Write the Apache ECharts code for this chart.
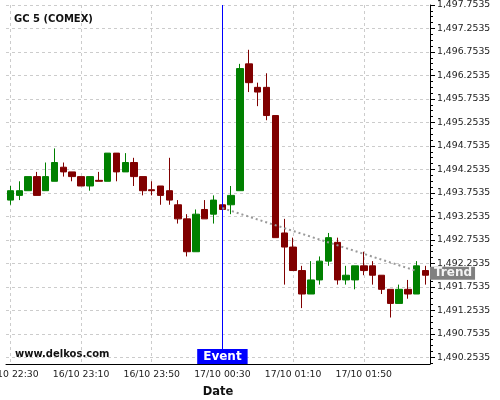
<!DOCTYPE html>
<html>
<head>
<meta charset="utf-8">
<script src="https://cdn.jsdelivr.net/npm/echarts@6/dist/echarts.min.js"></script>
<style>
  html, body { margin: 0; padding: 0; background: #fff; }
  #main { width: 500px; height: 400px; }
</style>
</head>
<body>
<div id="main"></div>
<script>
    // 5 minute candles, GC 5 (COMEX)
    var times = [
        '16/10 22:30', '16/10 22:35', '16/10 22:40', '16/10 22:45', '16/10 22:50', '16/10 22:55',
        '16/10 23:00', '16/10 23:05', '16/10 23:10', '16/10 23:15', '16/10 23:20', '16/10 23:25',
        '16/10 23:30', '16/10 23:35', '16/10 23:40', '16/10 23:45', '16/10 23:50', '16/10 23:55',
        '17/10 00:00', '17/10 00:05', '17/10 00:10', '17/10 00:15', '17/10 00:20', '17/10 00:25',
        '17/10 00:30', '17/10 00:35', '17/10 00:40', '17/10 00:45', '17/10 00:50', '17/10 00:55',
        '17/10 01:00', '17/10 01:05', '17/10 01:10', '17/10 01:15', '17/10 01:20', '17/10 01:25',
        '17/10 01:30', '17/10 01:35', '17/10 01:40', '17/10 01:45', '17/10 01:50', '17/10 01:55',
        '17/10 02:00', '17/10 02:05', '17/10 02:10', '17/10 02:15', '17/10 02:20', '17/10 02:25'
    ];
    var opens = [
        1493.6, 1493.7, 1493.8, 1494.1, 1493.8, 1494.0, 1494.3, 1494.2, 1494.1, 1493.9, 1494.02, 1494.0,
        1494.6, 1494.2, 1494.4, 1494.1, 1493.82, 1493.9, 1493.8, 1493.5, 1493.2, 1492.5, 1493.4, 1493.3,
        1493.5, 1493.5, 1493.8, 1496.5, 1496.0, 1496.0, 1495.4, 1492.9, 1492.6, 1492.1, 1491.6, 1491.9,
        1492.3, 1492.7, 1491.9, 1491.9, 1492.2, 1492.2, 1492.0, 1491.7, 1491.4, 1491.7, 1491.6, 1492.1
    ];
    var closes = [
        1493.8, 1493.8, 1494.1, 1493.7, 1494.1, 1494.4, 1494.2, 1494.1, 1493.9, 1494.1, 1494.0, 1494.6,
        1494.2, 1494.4, 1494.1, 1493.8, 1493.8, 1493.7, 1493.6, 1493.2, 1492.5, 1493.3, 1493.2, 1493.6,
        1493.4, 1493.7, 1496.4, 1496.1, 1495.9, 1495.4, 1492.8, 1492.6, 1492.1, 1491.6, 1491.9, 1492.3,
        1492.8, 1491.9, 1492.0, 1492.2, 1492.1, 1492.0, 1491.7, 1491.4, 1491.7, 1491.6, 1492.2, 1492.0
    ];
    var lows = [
        1493.5, 1493.6, 1493.8, 1493.7, 1493.8, 1494.0, 1494.1, 1494.0, 1493.9, 1493.8, 1494.0, 1494.0,
        1494.0, 1494.2, 1493.9, 1493.7, 1493.7, 1493.5, 1493.5, 1493.1, 1492.4, 1492.5, 1493.2, 1493.1,
        1493.4, 1493.3, 1493.8, 1495.9, 1495.6, 1495.3, 1492.8, 1491.8, 1492.1, 1491.3, 1491.6, 1491.8,
        1492.2, 1491.8, 1491.8, 1491.7, 1492.0, 1491.8, 1491.6, 1491.1, 1491.4, 1491.5, 1491.6, 1491.8
    ];
    var highs = [
        1493.9, 1494.0, 1494.1, 1494.2, 1494.4, 1494.7, 1494.4, 1494.2, 1494.1, 1494.1, 1494.2, 1494.6,
        1494.6, 1494.6, 1494.5, 1494.1, 1494.0, 1493.9, 1494.5, 1493.6, 1493.3, 1493.4, 1493.6, 1493.7,
        1493.5, 1493.9, 1496.5, 1496.8, 1496.1, 1496.3, 1495.4, 1493.2, 1492.8, 1492.2, 1492.3, 1492.4,
        1492.9, 1492.8, 1492.2, 1492.2, 1492.5, 1492.3, 1492.0, 1491.7, 1491.8, 1491.9, 1492.3, 1492.2
    ];
    var yTicks = [
        1490.2535, 1490.7535, 1491.2535, 1491.7535, 1492.2535, 1492.7535, 1493.2535, 1493.7535,
        1494.2535, 1494.7535, 1495.2535, 1495.7535, 1496.2535, 1496.7535, 1497.2535, 1497.7535
    ];
    var yMin = 1490.11;
    var yMax = 1497.7535;

    var eventIndex = 24;
    // trend line: [index, price] at both ends, label price at the axis
    var trendStart = [24, 1493.43];
    var trendEnd = [46, 1492.09];
    var trendLabelPrice = 1492.04;

    var candles = [];
    for (var i = 0; i < times.length; i++) {
        candles.push([opens[i], closes[i], lows[i], highs[i]]);
    }
    // 3 minor ticks between labelled ticks
    var minorTicks = [];
    for (var j = 0; j < yTicks.length; j++) {
        for (var k = 1; k < 4; k++) {
            var m = yTicks[j] - k * 0.125;
            if (m >= yMin) minorTicks.push(m);
        }
    }

    function priceLabel(v) {
        var s = v.toFixed(4).split('.');
        return s[0].replace(/\B(?=(\d{3})+$)/g, ',') + '.' + s[1];
    }

    var font = 'DejaVu Sans';
    var gridLine = { color: '#cccccc', type: [3, 3], width: 1 };

    var chart = echarts.init(document.getElementById('main'));
    chart.setOption({
        animation: false,
        textStyle: { fontFamily: font },
        title: {
            text: 'GC 5 (COMEX)',
            left: 9,
            top: 9,
            textStyle: { fontSize: 10, fontWeight: 'bold', color: '#111', fontFamily: font }
        },
        grid: { left: 6, right: 70, top: 5, bottom: 36, containLabel: false, outerBoundsMode: 'none' },
        xAxis: {
            type: 'category',
            data: times,
            boundaryGap: true,
            name: 'Date',
            nameLocation: 'middle',
            nameGap: 22,
            nameTextStyle: { fontSize: 11.5, fontWeight: 'bold', color: '#111' },
            axisLine: { lineStyle: { color: '#000', width: 1 } },
            axisTick: { alignWithLabel: true, interval: 1, length: 3, lineStyle: { color: '#000' } },
            axisLabel: { interval: 7, fontSize: 9.3, color: '#222', margin: 6, hideOverlap: false },
            splitLine: { show: true, interval: 7, alignWithLabel: true, lineStyle: gridLine }
        },
        yAxis: [
            {
                type: 'value',
                position: 'right',
                min: yMin,
                max: yMax,
                axisLine: { show: true, lineStyle: { color: '#000', width: 1 } },
                axisTick: { show: true, customValues: minorTicks, length: 3, lineStyle: { color: '#000' } },
                axisLabel: { show: false },
                splitLine: { show: false }
            },
            {
                type: 'value',
                position: 'right',
                min: yMin,
                max: yMax,
                axisLine: { show: false },
                axisTick: { show: true, customValues: yTicks, length: 5, lineStyle: { color: '#000' } },
                axisLabel: {
                    customValues: yTicks,
                    formatter: priceLabel,
                    fontSize: 9.3,
                    color: '#222',
                    margin: 7
                },
                splitLine: { show: true, lineStyle: gridLine }
            }
        ],
        series: [{
            name: 'GC 5',
            type: 'candlestick',
            yAxisIndex: 0,
            barWidth: 7,
            data: candles,
            itemStyle: {
                color: '#008000',
                color0: '#800000',
                borderColor: '#008000',
                borderColor0: '#800000',
                borderWidth: 1
            },
            markLine: {
                silent: true,
                symbol: ['none', 'none'],
                label: { show: false },
                data: [
                    { xAxis: eventIndex, lineStyle: { color: '#0000ff', width: 1, type: 'solid' } },
                    [
                        { coord: trendStart, lineStyle: { color: '#999999', width: 2, type: [2, 3] } },
                        { coord: trendEnd }
                    ]
                ]
            }
        }]
    });

    // labels placed through the axes' own scales
    var evPt = chart.convertToPixel({ xAxisIndex: 0, yAxisIndex: 0 }, [eventIndex, yMin]);
    var trPt = chart.convertToPixel({ xAxisIndex: 0, yAxisIndex: 0 }, [times.length - 1, trendLabelPrice]);
    var rightEdge = chart.getWidth() - 70;
    chart.setOption({
        graphic: [
            {
                type: 'text',
                x: 15,
                y: 354,
                style: {
                    text: 'www.delkos.com',
                    font: 'bold 10px "DejaVu Sans"',
                    fill: '#111',
                    verticalAlign: 'middle'
                }
            },
            {
                type: 'text',
                x: evPt[0],
                y: evPt[1],
                z: 100,
                style: {
                    text: 'Event',
                    font: 'bold 12px "DejaVu Sans"',
                    fill: '#ffffff',
                    align: 'center',
                    verticalAlign: 'bottom',
                    backgroundColor: '#0000ff',
                    padding: [2, 6, 1, 6]
                }
            },
            {
                type: 'text',
                x: rightEdge,
                y: trPt[1],
                z: 100,
                style: {
                    text: 'Trend',
                    font: 'bold 12px "DejaVu Sans"',
                    fill: '#f4f4f4',
                    align: 'left',
                    verticalAlign: 'middle',
                    backgroundColor: '#808080',
                    padding: [1, 3, 0, 4]
                }
            }
        ]
    });
</script>
</body>
</html>
